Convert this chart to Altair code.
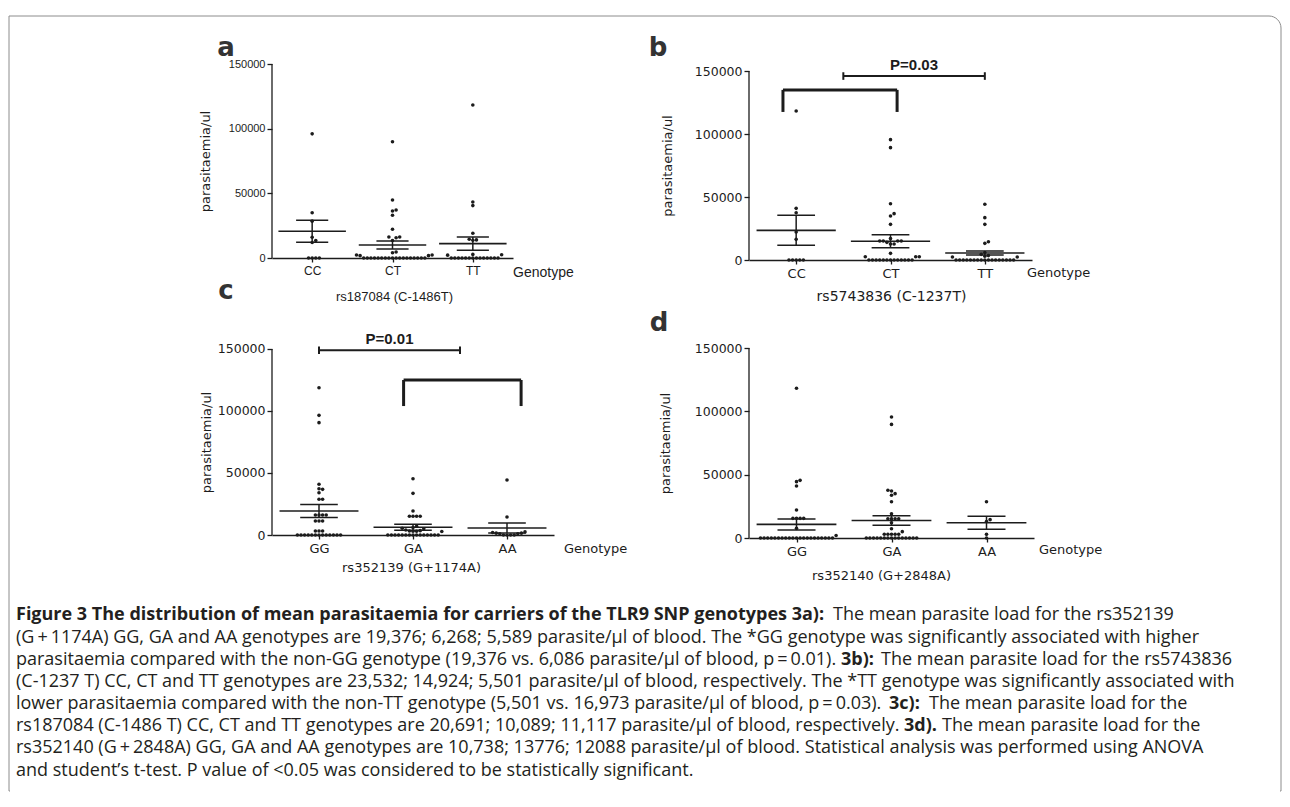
import altair as alt
import pandas as pd

# ---------------- data ----------------
TICKS = [0, 50000, 100000, 150000]

# panel a : rs187084 (C-1486T)
A_CATS = ["CC", "CT", "TT"]
A_G1 = [96000, 35000, 28500, 16000, 13500, 12000, 0, 0, 0, 0]
A_G2 = [89900, 44800, 37100, 36300, 33000, 22200, 16200, 16200, 15700, 13500, 4600, 4100,
        2300, 1800, 2300, 1800, 0, 0, 0, 0, 0, 0, 0, 0, 0, 0, 0, 0, 0, 0, 0, 0, 0, 0]
A_G3 = [118300, 43300, 40500, 19100, 14500, 14000, 13700, 2800, 2200, 2500,
        0, 0, 0, 0, 0, 0, 0, 0, 0, 0, 0, 0, 0, 0]
A_MEAN = [20691, 10089, 11117]
A_SEM = [8500, 3100, 5150]

# panel b : rs5743836 (C-1237T)
B_CATS = ["CC", "CT", "TT"]
B_G1 = [118250, 41000, 37500, 22200, 16400, 0, 0, 0, 0, 0]
B_G2 = [95500, 89150, 44700, 36800, 34900, 28300, 17000, 15100, 15100, 15100, 15100, 14000,
        12700, 12700, 5300, 2600, 2600, 2600, 0, 0, 0, 0, 0, 0, 0, 0, 0, 0, 0, 0, 0]
B_G3 = [44200, 33600, 28300, 14500, 13200, 6000, 4500, 3500, 3000, 2400, 2400,
        0, 0, 0, 0, 0, 0, 0, 0, 0, 0, 0, 0, 0, 0, 0, 0, 0]
B_MEAN = [23532, 14924, 5501]
B_SEM = [11900, 5160, 1600]

# panel c : rs352139 (G+1174A)
C_CATS = ["GG", "GA", "AA"]
C_G1 = [118800, 96500, 90600, 40900, 37300, 36800, 34100, 28800, 28800, 16100, 16100, 16100,
        16100, 11300, 11300, 11300, 3200, 3200, 3200, 0, 0, 0, 0, 0, 0, 0, 0, 0, 0, 0, 0, 0]
C_G2 = [45400, 33600, 19400, 15100, 15100, 15100, 15100, 7000, 6000, 5500, 5000, 4000,
        3000, 3200, 2800, 3000, 3500, 0, 0, 0, 0, 0, 0, 0, 0, 0, 0, 0, 0, 0, 0, 0]
C_G3 = [44400, 14500, 2500, 2000, 1500, 1500, 1000, 1000, 0, 0, 0, 0]
C_MEAN = [19376, 6268, 5589]
C_SEM = [5300, 2400, 4000]

# panel d : rs352140 (G+2848A)
D_CATS = ["GG", "GA", "AA"]
D_G1 = [118200, 45500, 44500, 41000, 22100, 15500, 15500, 15500, 15500, 7600, 2000,
        0, 0, 0, 0, 0, 0, 0, 0, 0, 0, 0, 0, 0, 0, 0, 0, 0, 0, 0, 0, 0]
D_G2 = [95500, 89700, 37650, 37100, 35000, 33700, 28650, 19200, 15200, 15200, 15200, 15200,
        12000, 7350, 5000, 3000, 3000, 3000, 3000, 3000, 0, 0, 0, 0, 0, 0, 0, 0, 0, 0, 0, 0, 0, 0, 0]
D_G3 = [28650, 14500, 13000, 2900, 0]
D_MEAN = [10738, 13776, 12088]
D_SEM = [4350, 3700, 5100]

# significance annotations: (x from, x to, level[, leg end]) in data units
B_BRACKET = [(-0.14, 1.07, 135000, 117500)]
B_PLINE = [(0.5, 2.0, 146000)]
B_PTEXT = "P=0.03"
C_BRACKET = [(0.9, 2.15, 125000, 104000)]
C_PLINE = [(0.0, 1.5, 149000)]
C_PTEXT = "P=0.01"

CAPTION = [
    [("Figure 3 The distribution of mean parasitaemia for carriers of the TLR9 SNP genotypes 3a):", True),
     ("The mean parasite load for the rs352139", False)],
    [("(G\u2009+\u20091174A) GG, GA and AA genotypes are 19,376; 6,268; 5,589 parasite/\u03bcl of blood. The *GG genotype was significantly associated with higher", False)],
    [("parasitaemia compared with the non-GG genotype (19,376 vs. 6,086 parasite/\u03bcl of blood, p\u2009=\u20090.01).", False),
     ("3b):", True), ("The mean parasite load for the rs5743836", False)],
    [("(C-1237 T) CC, CT and TT genotypes are 23,532; 14,924; 5,501 parasite/\u03bcl of blood, respectively. The *TT genotype was significantly associated with", False)],
    [("lower parasitaemia compared with the non-TT genotype (5,501 vs. 16,973 parasite/\u03bcl of blood, p\u2009=\u20090.03).", False),
     ("3c):", True), ("The mean parasite load for the", False)],
    [("rs187084 (C-1486 T) CC, CT and TT genotypes are 20,691; 10,089; 11,117 parasite/\u03bcl of blood, respectively.", False),
     ("3d).", True), ("The mean parasite load for the", False)],
    [("rs352140 (G\u2009+\u20092848A) GG, GA and AA genotypes are 10,738; 13776; 12088 parasite/\u03bcl of blood. Statistical analysis was performed using ANOVA", False)],
    [("and student\u2019s t-test. P value of <0.05 was considered to be statistically significant.", False)],
]

# ---------------- layout / style ----------------
INK = "#1c1c1c"
SANS = "Liberation Sans, Arial, sans-serif"
WIDE = "DejaVu Sans, Verdana, sans-serif"
CAP_FONT = "Open Sans, Noto Sans, sans-serif"
CAP_SIZE = 18
# page coordinates of the caption (x of each segment, y of each line)
CAP_X = [[15, 832], [15], [15, 840, 880], [15], [15, 888, 928], [15, 903, 941], [15], [15]]
CAP_Y = [614, 637, 659, 681, 703, 725, 747, 770]
ORIGIN_C = (271, 347)

LAYOUT = {
    "a": dict(W=241, H=194, ymax=150000, yx=-67, tx=122, ty=38, gx=0, gy=15, lx=-46, ly=-16,
              ylab=SANS, yls=11, xlab=SANS, xls=12, tfont=SANS, tfs=13, gfs=14, gfont=SANS),
    "b": dict(W=283, H=196, ymax=155556, yx=-82, tx=142, ty=36, gx=-5, gy=13, lx=-91, ly=-16,
              ylab=WIDE, yls=12.5, xlab=WIDE, xls=13, tfont=WIDE, tfs=14, gfs=13, gfont=WIDE),
    "c": dict(W=282, H=187, ymax=150806, yx=-66, tx=139, ty=32, gx=10, gy=14, lx=-46, ly=-57,
              ylab=WIDE, yls=12.5, xlab=WIDE, xls=13, tfont=WIDE, tfs=13, gfs=13, gfont=WIDE),
    "d": dict(W=285, H=190, ymax=150000, yx=-84, tx=132, ty=37, gx=5, gy=12, lx=-90, ly=-25,
              ylab=WIDE, yls=12.5, xlab=WIDE, xls=13, tfont=WIDE, tfs=13, gfs=13, gfont=WIDE),
}
DOT = 3.6          # px spacing of the column scatter
MEAN_HALF = 0.42   # half width of the mean line (category units)
CAP_HALF = 0.2     # half width of the SEM caps


def swarm(vals, ymax, H, step_px):
    """Column-scatter layout: spread points sideways so they do not overlap."""
    placed, out = [], []
    order = [0]
    for k in range(1, 80):
        order += [k, -k]
    for v in sorted(vals):
        py = v / ymax * H
        for k in order:
            px = k * DOT
            if all((px - qx) ** 2 + (py - qy) ** 2 >= DOT ** 2 - 1e-6 for qx, qy in placed):
                break
        placed.append((px, py))
        out.append((v, px / step_px))
    return out


def one():
    return pd.DataFrame({"k": [0]})


def make_panel(key, letter, cats, groups, means, sems, title,
               bracket=None, pline=None, ptext=None, extras=None):
    L = LAYOUT[key]
    W, H, ymax = L["W"], L["H"], L["ymax"]
    step = W / 3.0
    xs = alt.Scale(domain=[-0.5, 2.5], nice=False, zero=False)
    ys = alt.Scale(domain=[0, ymax], nice=False, zero=False)
    cat_js = "[" + ",".join("'%s'" % c for c in cats) + "]"
    xaxis = alt.Axis(values=[0, 1, 2], labelExpr=cat_js + "[datum.value]", grid=False,
                     domain=True, domainColor=INK, domainWidth=1.3, ticks=True, tickSize=4,
                     tickColor=INK, tickWidth=1.3, labelFont=L["xlab"], labelFontSize=L["xls"],
                     labelColor=INK, labelPadding=3, labelFlush=False, labelOverlap=False,
                     title=title, titleFont=L["tfont"], titleFontSize=L["tfs"],
                     titleFontWeight="normal", titleColor=INK, titleX=L["tx"], titleY=L["ty"],
                     titleBaseline="middle", titleAlign="center")
    yaxis = alt.Axis(values=TICKS, format="d", grid=False, domain=False, ticks=True, tickSize=5,
                     tickColor=INK, tickWidth=1.3, labelFont=L["ylab"], labelFontSize=L["yls"],
                     labelColor=INK, labelPadding=2, title="parasitaemia/ul",
                     titleFont=WIDE, titleFontSize=13, titleFontWeight="normal", titleColor=INK,
                     titleX=L["yx"], titleY=H - 75000 / ymax * H, titleAngle=270,
                     titleAlign="center", titleBaseline="middle")

    def X(f):
        return alt.X(f, scale=xs, axis=xaxis)

    def Y(f):
        return alt.Y(f, scale=ys, axis=yaxis)

    def seg_layer(rows, sw):
        df = pd.DataFrame(rows, columns=["x0", "x1", "y0", "y1"])
        return alt.Chart(df).mark_rule(strokeWidth=sw, color=INK).encode(
            x=X("x0:Q"), x2="x1:Q", y=Y("y0:Q"), y2="y1:Q")

    layers = []
    if extras:
        layers += extras(L)

    pts = []
    for i, vals in enumerate(groups):
        for v, off in swarm(vals, ymax, H, step):
            pts.append({"x": i + off, "y": v})
    layers.append(alt.Chart(pd.DataFrame(pts)).mark_circle(size=13, color=INK, opacity=1).encode(
        x=X("x:Q"), y=Y("y:Q")))

    # y axis line 0..150000
    layers.append(seg_layer([(-0.5, -0.5, 0, 150000)], 1.3))
    # mean lines
    layers.append(seg_layer([(i - MEAN_HALF, i + MEAN_HALF, m, m) for i, m in enumerate(means)], 1.6))
    # SEM caps and whiskers
    caps, whisk = [], []
    for i, (m, s) in enumerate(zip(means, sems)):
        lo, hi = max(m - s, 0), m + s
        caps += [(i - CAP_HALF, i + CAP_HALF, lo, lo), (i - CAP_HALF, i + CAP_HALF, hi, hi)]
        whisk.append((i, i, lo, hi))
    layers.append(seg_layer(caps, 1.5))
    layers.append(seg_layer(whisk, 1.5))

    if bracket:
        rows = []
        for x0, x1, top, bot in bracket:
            rows += [(x0, x1, top, top), (x0, x0, top, bot), (x1, x1, top, bot)]
        layers.append(seg_layer(rows, 3))
    if pline:
        rows = []
        tick = 3000 * ymax / H / (150000 / 190)
        for x0, x1, lev in pline:
            rows += [(x0, x1, lev, lev), (x0, x0, lev - tick, lev + tick), (x1, x1, lev - tick, lev + tick)]
        layers.append(seg_layer(rows, 2))
        tx = (pline[0][0] + pline[0][1]) / 2
        tdf = pd.DataFrame({"x": [tx], "y": [pline[0][2]], "t": [ptext]})
        layers.append(alt.Chart(tdf).mark_text(font=SANS, fontSize=15, fontWeight="bold", color=INK,
                                               baseline="bottom", dy=-3).encode(
            x=X("x:Q"), y=Y("y:Q"), text="t:N"))

    layers.append(alt.Chart(one()).mark_text(text="Genotype", font=L["gfont"], fontSize=L["gfs"],
                                             color=INK, align="left", baseline="middle").encode(
        x=alt.value(W + L["gx"]), y=alt.value(H + L["gy"])))
    layers.append(alt.Chart(one()).mark_text(text=letter, font="DejaVu Sans", fontSize=26,
                                             fontWeight="bold", color="#333333", align="center",
                                             baseline="middle").encode(
        x=alt.value(L["lx"]), y=alt.value(L["ly"])))

    return alt.layer(*layers).properties(width=W, height=H)


def border_layers(L):
    # frame of the figure page (rounded top-right corner)
    rect = alt.Chart(one()).mark_rect(filled=False, stroke="#8c8c8c", strokeWidth=1,
                                      cornerRadiusTopRight=12).encode(
        x=alt.value(-263), x2=alt.value(1009), y=alt.value(-48), y2=alt.value(727))
    cover = alt.Chart(one()).mark_rule(color="white", strokeWidth=4).encode(
        x=alt.value(-262), x2=alt.value(1008), y=alt.value(727))
    return [rect, cover]


def caption_layers(L):
    out = []
    ox, oy = ORIGIN_C
    for li, segs in enumerate(CAPTION):
        for si, (txt, bold) in enumerate(segs):
            out.append(alt.Chart(one()).mark_text(
                text=txt, font=CAP_FONT, fontSize=CAP_SIZE,
                fontWeight="bold" if bold else "normal", color="#231f20",
                align="left", baseline="middle").encode(
                x=alt.value(CAP_X[li][si] - ox), y=alt.value(CAP_Y[li] - oy)))
    return out


pa = make_panel("a", "a", A_CATS, [A_G1, A_G2, A_G3], A_MEAN, A_SEM, "rs187084 (C-1486T)",
                extras=border_layers)
pb = make_panel("b", "b", B_CATS, [B_G1, B_G2, B_G3], B_MEAN, B_SEM, "rs5743836 (C-1237T)",
                bracket=B_BRACKET, pline=B_PLINE, ptext=B_PTEXT)
pc = make_panel("c", "c", C_CATS, [C_G1, C_G2, C_G3], C_MEAN, C_SEM, "rs352139 (G+1174A)",
                bracket=C_BRACKET, pline=C_PLINE, ptext=C_PTEXT, extras=caption_layers)
pd_ = make_panel("d", "d", D_CATS, [D_G1, D_G2, D_G3], D_MEAN, D_SEM, "rs352140 (G+2848A)")

chart = alt.concat(pa, pb, pc, pd_, columns=2, spacing={"row": 88, "column": 195},
                   bounds="flush", align="each").properties(
    padding={"left": 0, "top": 7, "right": 0, "bottom": 0},
    background="white",
).configure_view(stroke=None)

chart.save("out.html", embed_options={"renderer": "svg", "actions": False})
